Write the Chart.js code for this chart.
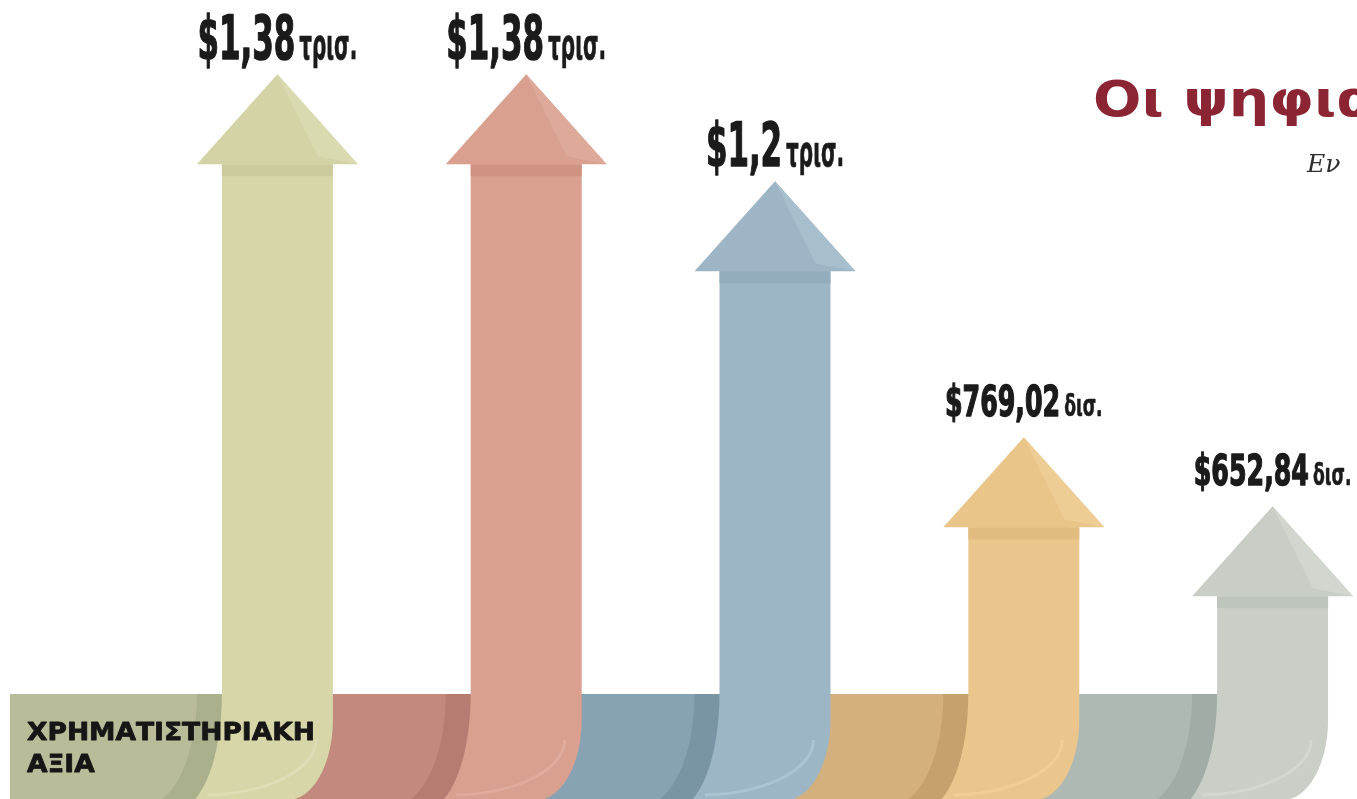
<!DOCTYPE html>
<html><head><meta charset="utf-8">
<script src="https://cdn.jsdelivr.net/npm/chart.js@4.4.1/dist/chart.umd.min.js"></script>
<style>
html,body{margin:0;padding:0;background:#fff;overflow:hidden;width:1357px;height:799px;}
#wrap{position:absolute;left:0;top:0;width:1420px;height:799px;}
</style></head><body>
<div id="wrap"><canvas id="c" width="1420" height="799"></canvas></div>
<script>
// ---- data ----
const categories = ['$1,38 τρισ.', '$1,38 τρισ.', '$1,2 τρισ.', '$769,02 δισ.', '$652,84 δισ.'];
const valuesBillion = [1380, 1380, 1200, 769.02, 652.84];
const numberText = ['$1,38', '$1,38', '$1,2', '$769,02', '$652,84'];
const unitText = ['τρισ.', 'τρισ.', 'τρισ.', 'δισ.', 'δισ.'];
const bandLabelLines = ['ΧΡΗΜΑΤΙΣΤΗΡΙΑΚΗ', 'ΑΞΙΑ'];
const titleText = 'Οι ψηφιακοί';
const subtitleText = 'Εν';

// ---- styles ----
const palette = [
  {shaft:'#d6d6a9', head:'#d3d3a5', light:'#dadab1', stripe:'#cbcb9c', band:'#b8bc98', crescent:'#aaaf8c', hl:'#e2e2bf'},
  {shaft:'#d99f8f', head:'#d9a090', light:'#ddaa9a', stripe:'#cf9383', band:'#c4897e', crescent:'#b67c72', hl:'#e4b3a5'},
  {shaft:'#9db6c5', head:'#9db5c4', light:'#a7becc', stripe:'#93adbc', band:'#87a3b3', crescent:'#7994a5', hl:'#b4cddb'},
  {shaft:'#ebc68c', head:'#eac58a', light:'#eecd95', stripe:'#e2bb80', band:'#d4b07e', crescent:'#c6a16d', hl:'#f5d69a'},
  {shaft:'#c9cfc7', head:'#c8cec6', light:'#d1d6cf', stripe:'#bec5bd', band:'#aeb9b4', crescent:'#a1aca7', hl:'#d8ddd6'}
];
const labelFam = '"Liberation Sans Narrow","DejaVu Sans Condensed","Liberation Sans",sans-serif';

function drawLabel(ctx, cx, baseline, num, unit, big) {
  const cap = big ? 44 : 31;
  const adv = big ? 21.5 : 17.6;
  const nf = Math.round(cap / 0.72);
  ctx.font = `bold ${nf}px ${labelFam}`;
  const sx = adv / ctx.measureText('0').width;
  const numW = ctx.measureText(num).width * sx;
  const uf = Math.round((big ? 22 : 16) / 0.53);
  ctx.font = `bold ${uf}px ${labelFam}`;
  const su = ((big ? 58 : 50) * uf / (big ? 42 : 30)) / ctx.measureText('τρισ.').width;
  const unitW = ctx.measureText(unit).width * su;
  const gap = 4;
  const x0 = cx - (numW + gap + unitW) / 2;
  ctx.fillStyle = '#1b1b1b';
  ctx.strokeStyle = '#1b1b1b';
  ctx.lineJoin = 'round';
  ctx.textBaseline = 'alphabetic';
  ctx.textAlign = 'left';
  ctx.save();
  ctx.translate(x0, baseline); ctx.scale(sx, 1);
  ctx.font = `bold ${nf}px ${labelFam}`;
  ctx.lineWidth = 1.4;
  ctx.fillText(num, 0, 0);
  ctx.strokeText(num, 0, 0);
  ctx.restore();
  ctx.save();
  ctx.translate(x0 + numW + gap, baseline); ctx.scale(su, 1);
  ctx.font = `bold ${uf}px ${labelFam}`;
  ctx.lineWidth = 0.6;
  ctx.fillText(unit, 0, 0);
  ctx.strokeText(unit, 0, 0);
  ctx.restore();
}

const arrowPlugin = {
  id: 'arrows',
  beforeDatasetsDraw(chart) {
    const ctx = chart.ctx;
    const els = chart.getDatasetMeta(0).data;
    const bandTop = 694, bottom = chart.height;
    ctx.save();
    els.forEach((el, i) => {
      const p = palette[i];
      const cx = el.x, w = el.width, L = cx - w / 2;
      const start = i === 0 ? 10 : els[i - 1].x;
      ctx.fillStyle = p.band;
      ctx.fillRect(start, bandTop, cx - start, bottom - bandTop);
      ctx.beginPath();
      ctx.ellipse(L - 75, bandTop, 50, 110, 0, Math.PI / 2, 0, true);
      ctx.lineTo(L + 10, bandTop);
      ctx.lineTo(L + 10, bottom);
      ctx.lineTo(L - 75, bottom);
      ctx.closePath();
      ctx.fillStyle = p.crescent;
      ctx.fill();
    });
    els.forEach((el, i) => {
      const p = palette[i];
      const cx = el.x, w = el.width, L = cx - w / 2, R = cx + w / 2;
      const apex = el.y, hh = 90, hw = w / 2 + 25, base = apex + hh;
      ctx.beginPath();
      ctx.moveTo(L, base);
      ctx.lineTo(R, base);
      ctx.lineTo(R, 720);
      ctx.ellipse(R - 45, 720, 45, 80, 0, 0, Math.PI / 2);
      ctx.ellipse(L - 45, bandTop, 45, 115, 0, Math.PI / 2, 0, true);
      ctx.closePath();
      ctx.fillStyle = p.shaft;
      ctx.fill();
      ctx.fillStyle = p.stripe;
      ctx.fillRect(L, base, w, 12);
      ctx.save();
      ctx.globalAlpha = 0.6;
      ctx.beginPath();
      ctx.ellipse(L - 20, 740, (R - 17) - (L - 20), 55, 0, 0, Math.PI / 2 * 0.97);
      ctx.strokeStyle = p.hl;
      ctx.lineWidth = 3;
      ctx.stroke();
      ctx.restore();
      ctx.beginPath();
      ctx.moveTo(cx, apex);
      ctx.lineTo(cx + hw, base);
      ctx.lineTo(cx - hw, base);
      ctx.closePath();
      ctx.fillStyle = p.head;
      ctx.fill();
      ctx.beginPath();
      ctx.moveTo(cx, apex);
      ctx.lineTo(cx + hw, base);
      ctx.lineTo(cx + hw * 0.5, base - 8);
      ctx.closePath();
      ctx.fillStyle = p.light;
      ctx.fill();
    });
    ctx.restore();
  },
  afterDatasetsDraw(chart) {
    const ctx = chart.ctx;
    const els = chart.getDatasetMeta(0).data;
    ctx.save();
    els.forEach((el, i) => {
      const big = unitText[i] === 'τρισ.';
      drawLabel(ctx, el.x, el.y - (big ? 15 : 21), numberText[i], unitText[i], big);
    });
    ctx.fillStyle = '#161616';
    ctx.strokeStyle = '#161616';
    ctx.lineWidth = 0.8;
    ctx.font = 'bold 25px "DejaVu Sans", sans-serif';
    ctx.textAlign = 'left';
    const w0 = ctx.measureText(bandLabelLines[0]).width;
    const s = 288 / w0;
    bandLabelLines.forEach((t, k) => {
      ctx.save(); ctx.translate(27, 740 + k * 32); ctx.scale(s, 1);
      ctx.fillText(t, 0, 0); ctx.strokeText(t, 0, 0);
      ctx.restore();
    });
    ctx.fillStyle = '#8b2433';
    ctx.font = 'bold 50px "DejaVu Sans", sans-serif';
    ctx.save(); ctx.translate(1093, 116); ctx.scale(1.14, 1);
    ctx.fillText(titleText, 0, 0);
    ctx.restore();
    ctx.fillStyle = '#2e2e2e';
    ctx.font = 'italic 25px "DejaVu Serif", serif';
    ctx.fillText(subtitleText, 1307, 172);
    ctx.restore();
  }
};

new Chart(document.getElementById('c'), {
  type: 'bar',
  data: {
    labels: categories,
    datasets: [{
      data: valuesBillion,
      backgroundColor: 'rgba(0,0,0,0)',
      borderWidth: 0,
      categoryPercentage: 1,
      barPercentage: 0.446
    }]
  },
  options: {
    responsive: false,
    devicePixelRatio: 1,
    animation: false,
    layout: {padding: {left: 153, right: 23, top: 0, bottom: 0}},
    plugins: {legend: {display: false}, tooltip: {enabled: false}},
    scales: {
      x: {display: false, offset: true},
      y: {display: false, min: 160, max: 1505}
    }
  },
  plugins: [arrowPlugin]
});
</script>
</body></html>
